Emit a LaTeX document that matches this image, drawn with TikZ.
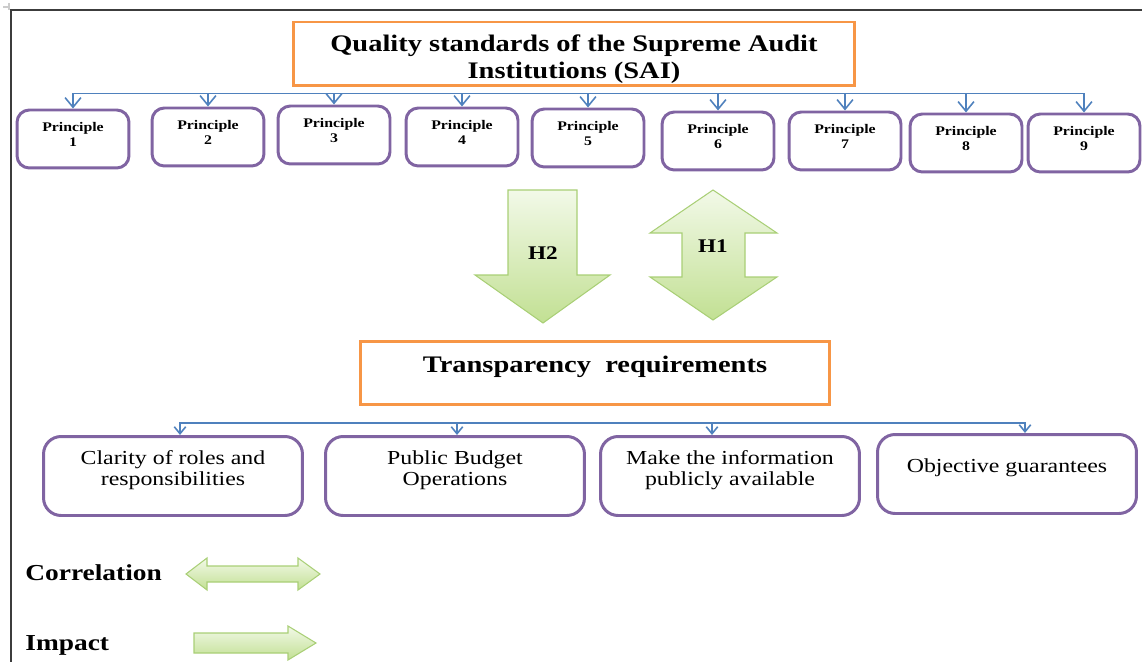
\documentclass[tikz,border=0pt]{standalone}
\usepackage{fontspec}
\setmainfont{Liberation Serif}[FakeStretch=1.2]
\usepackage{tikz}
\usetikzlibrary{positioning, arrows.meta}
\definecolor{boxorange}{HTML}{F79646}
\definecolor{boxpurple}{HTML}{8064A2}
\definecolor{linkblue}{HTML}{4F81BD}
\definecolor{arrowtop}{HTML}{F2F9E8}
\definecolor{arrowbottom}{HTML}{C2E093}
\definecolor{arrowedge}{HTML}{A9CF76}
\definecolor{framegray}{HTML}{3C3C3C}
\tikzstyle{line} = [draw=linkblue, line width=0.9pt, -{Straight Barb[length=5.5pt,width=9pt]}]
\tikzstyle{smallline} = [draw=linkblue, line width=0.9pt, -{Straight Barb[length=4pt,width=6.5pt]}]
\tikzstyle{headbox} = [rectangle, draw=boxorange, line width=1.7pt, fill=white, align=center]
\tikzstyle{principle} = [rectangle, draw=boxpurple, line width=1.7pt, rounded corners=7pt,
    minimum width=2.24cm, minimum height=1.16cm]
\tikzstyle{ptext} = [inner sep=0pt, align=center, font=\bfseries\fontsize{7.5}{8.5}\selectfont]
\tikzstyle{requirement} = [rectangle, draw=boxpurple, line width=1.7pt, rounded corners=10pt,
    minimum width=5.18cm, minimum height=1.58cm]
\tikzstyle{rtext} = [inner sep=0pt, align=center, font=\fontsize{11.3}{11.9}\selectfont]
\tikzstyle{bigarrow} = [draw=arrowedge, line width=0.6pt, top color=arrowtop, bottom color=arrowbottom]
\tikzstyle{legend} = [inner sep=0pt, anchor=west, font=\bfseries\fontsize{13}{13}\selectfont]

\begin{document}
\begin{tikzpicture}[x=0.02cm, y=-0.02cm]
  \useasboundingbox (0,0) rectangle (1142,662);
  % page frame
  \draw [framegray, line width=1.1pt] (1142,10) -- (11,10) -- (11,662);
  \draw [gray!40, line width=0.8pt] (3,7) -- (9,7) (9,3) -- (9,10);
  % Place nodes
  \node [headbox, minimum width=11.24cm, minimum height=1.28cm, inner ysep=0pt,
    font=\bfseries\fontsize{13.5}{15.3}\selectfont] (sai) at (574,54)
    {\rule{0pt}{15pt}Quality standards of the Supreme Audit\\Institutions (SAI)};
  \foreach \n/\x/\y in {1/73/139, 2/208/137, 3/334/135, 4/462/137, 5/588/138,
      6/718/141, 7/845/141, 8/966/143, 9/1084/143} {
    \node [principle] (p\n) at (\x,\y) {};
    \node [ptext, below=7.7pt of p\n.north] (pt\n) {Principle\\\n};
  }
  \node [headbox, minimum width=9.4cm, minimum height=1.26cm, text depth=9.6pt,
    font=\bfseries\fontsize{13.5}{15}\selectfont] (trans) at (595,373)
    {Transparency\ \ requirements};
  \foreach \n/\x/\y/\d/\txt in {1/173/476/8.8pt/{Clarity of roles and\\responsibilities},
      2/455/476/8.8pt/{Public Budget\\Operations},
      3/730/476/8.8pt/{Make the information\\publicly available},
      4/1007/474/14.3pt/{Objective guarantees}} {
    \node [requirement] (r\n) at (\x,\y) {};
    \node [rtext, below=\d of r\n.north] (rt\n) {\txt};
  }
  % Draw edges
  \foreach \n in {1,...,9}
    \path [line] ([yshift=-0.12cm]sai.south) -| (p\n.north);
  \foreach \n/\dx in {1/7, 2/2, 3/-18, 4/18}
    \path [smallline] ([yshift=-0.34cm]trans.south) -| ([xshift=\dx*0.02cm]r\n.north);
  % hypothesis arrows
  \path [bigarrow] (508,190) -- (577,190) -- (577,275) -- (610,275) -- (543,323)
    -- (475,275) -- (508,275) -- cycle;
  \node [font=\bfseries\fontsize{11}{11}\selectfont] (h2) at (543,253) {H2};
  \path [bigarrow] (713,190) -- (777,233) -- (745,233) -- (745,277) -- (777,277)
    -- (713,320) -- (650,277) -- (682,277) -- (682,233) -- (650,233) -- cycle;
  \node [font=\bfseries\fontsize{11}{11}\selectfont] (h1) at (713,246) {H1};
  % legend
  \node [legend] (corr) at (25,573) {Correlation};
  \path [bigarrow] (186,574) -- (207,558) -- (207,566) -- (298,566) -- (298,558)
    -- (320,574) -- (298,590) -- (298,582) -- (207,582) -- (207,590) -- cycle;
  \node [legend] (imp) at (25,645) {Impact};
  \path [bigarrow] (194,633) -- (288,633) -- (288,626) -- (316,643) -- (288,660)
    -- (288,653) -- (194,653) -- cycle;
\end{tikzpicture}
\end{document}
